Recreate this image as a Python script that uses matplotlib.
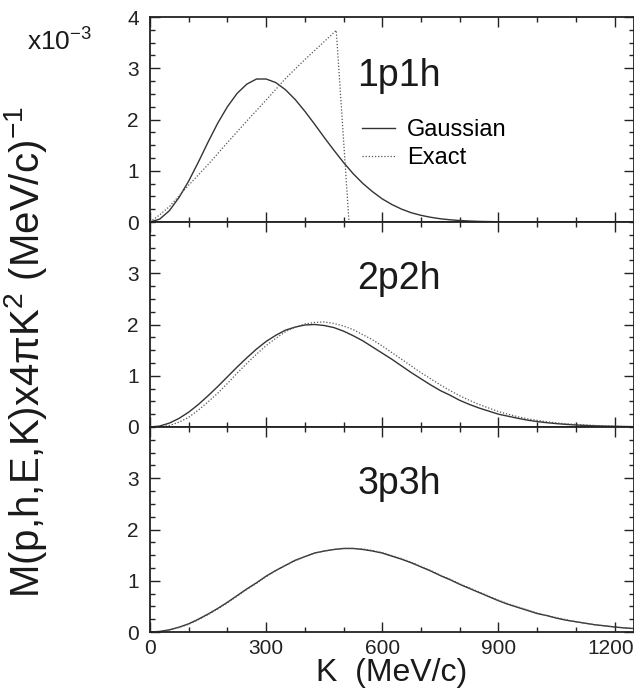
import matplotlib
matplotlib.use("Agg")
import matplotlib.pyplot as plt
from matplotlib.ticker import MultipleLocator
from matplotlib.transforms import ScaledTranslation

plt.rcParams["font.family"] = ["Liberation Sans", "DejaVu Sans"]
plt.rcParams["mathtext.fontset"] = "custom"
plt.rcParams["mathtext.rm"] = "Liberation Sans"
plt.rcParams["mathtext.it"] = "Liberation Sans"

# ── dados (K em MeV/c, valores em 10^-3 (MeV/c)^-1) ──────────────────────────
k_grid = [0, 25, 50, 75, 100, 125, 150, 175, 200, 225, 250, 275, 300, 325,
          350, 375, 400, 425, 450, 475, 500, 525, 550, 575, 600, 625, 650,
          675, 700, 725, 750, 775, 800, 825, 850, 875, 900, 925, 950, 975,
          1000, 1025, 1050, 1075, 1100, 1125, 1150, 1175, 1200, 1225, 1250]

gauss_1p1h = [0, 0.056, 0.22, 0.48, 0.80, 1.17, 1.56, 1.93, 2.25, 2.51, 2.69,
              2.79, 2.79, 2.72, 2.58, 2.39, 2.16, 1.91, 1.65, 1.40, 1.16,
              0.94, 0.75, 0.59, 0.45, 0.34, 0.25, 0.18, 0.13, 0.092, 0.063,
              0.043, 0.029, 0.019, 0.012, 0.008, 0.005, 0.003, 0.002, 0.001,
              0.001, 0, 0, 0, 0, 0, 0, 0, 0, 0, 0]
k_exact_1p1h = [0, 25, 50, 100, 150, 200, 250, 300, 350, 400, 450, 481, 514, 1250]
exact_1p1h = [0, 0.14, 0.30, 0.72, 1.12, 1.55, 1.97, 2.38, 2.80, 3.17, 3.52,
              3.74, 0, 0]

gauss_2p2h = [0, 0.019, 0.076, 0.168, 0.29, 0.44, 0.61, 0.79, 0.98, 1.17,
              1.35, 1.52, 1.67, 1.79, 1.89, 1.95, 1.99, 2.00, 1.98, 1.94,
              1.87, 1.78, 1.68, 1.56, 1.44, 1.32, 1.19, 1.06, 0.94, 0.82,
              0.71, 0.62, 0.52, 0.44, 0.37, 0.31, 0.25, 0.21, 0.17, 0.134,
              0.106, 0.084, 0.066, 0.051, 0.039, 0.030, 0.023, 0.017, 0.013,
              0.009, 0.007]
exact_2p2h = [0, 0.005, 0.03, 0.094, 0.19, 0.33, 0.49, 0.66, 0.85, 1.05,
              1.24, 1.42, 1.59, 1.73, 1.86, 1.95, 2.01, 2.04, 2.05, 2.02,
              1.97, 1.90, 1.80, 1.70, 1.58, 1.45, 1.32, 1.19, 1.06, 0.94,
              0.82, 0.71, 0.61, 0.52, 0.44, 0.37, 0.30, 0.25, 0.20, 0.16,
              0.13, 0.10, 0.08, 0.063, 0.05, 0.039, 0.03, 0.022, 0.015,
              0.011, 0.008]

gauss_3p3h = [0, 0.011, 0.042, 0.094, 0.16, 0.25, 0.35, 0.46, 0.58, 0.71,
              0.84, 0.96, 1.09, 1.20, 1.30, 1.40, 1.47, 1.54, 1.58, 1.61,
              1.63, 1.63, 1.61, 1.58, 1.54, 1.48, 1.42, 1.35, 1.27, 1.19,
              1.10, 1.02, 0.93, 0.85, 0.77, 0.69, 0.61, 0.54, 0.48, 0.42,
              0.36, 0.32, 0.27, 0.23, 0.20, 0.17, 0.14, 0.12, 0.097, 0.080,
              0.066]
exact_3p3h = [0, 0.009, 0.038, 0.088, 0.15, 0.24, 0.34, 0.45, 0.57, 0.70,
              0.83, 0.95, 1.08, 1.20, 1.30, 1.39, 1.47, 1.54, 1.58, 1.61,
              1.63, 1.63, 1.62, 1.59, 1.55, 1.49, 1.43, 1.36, 1.28, 1.20,
              1.11, 1.03, 0.94, 0.86, 0.78, 0.70, 0.62, 0.55, 0.49, 0.43,
              0.37, 0.32, 0.28, 0.24, 0.20, 0.17, 0.14, 0.12, 0.10, 0.082,
              0.068]

paineis = ["1p1h", "2p2h", "3p3h"]
x_ticks = [0, 300, 600, 900, 1200]

# ── figura ───────────────────────────────────────────────────────────────────
W, H = 634, 693
fig = plt.figure(figsize=(W / 100, H / 100), dpi=100)
fig.patch.set_facecolor("white")

esq, dir_ = 150, 634
topo, base = 17, 632
alt = (base - topo) / 3

axes = []
for i in range(3):
    y_top = topo + i * alt
    ax = fig.add_axes([esq / W, 1 - (y_top + alt) / H, (dir_ - esq) / W, alt / H])
    axes.append(ax)

dados = [
    (k_grid, gauss_1p1h, k_exact_1p1h, exact_1p1h),
    (k_grid, gauss_2p2h, k_grid, exact_2p2h),
    (k_grid, gauss_3p3h, k_grid, exact_3p3h),
]

for i, (ax, nome, (kg, g, ke, e)) in enumerate(zip(axes, paineis, dados)):
    l1, = ax.plot(kg, g, color="#333333", lw=1.0, ls="-", label="Gaussian")
    l2, = ax.plot(ke, e, color="#555555", lw=0.9, ls=(0, (1, 1.5)), label="Exact")

    ax.set_xlim(0, 1250)
    ax.set_ylim(0, 4)
    ax.xaxis.set_major_locator(MultipleLocator(300))
    ax.xaxis.set_minor_locator(MultipleLocator(100))
    ax.yaxis.set_minor_locator(MultipleLocator(0.25))
    if i == 0:
        ax.set_yticks([0, 1, 2, 3, 4])
    else:
        ax.set_yticks([0, 1, 2, 3])
    ax.tick_params(which="both", direction="in", top=True, right=True,
                   labelsize=15, width=1.0, colors="#222222")
    ax.tick_params(axis="y", pad=8)
    ax.tick_params(axis="x", pad=5)
    ax.tick_params(which="major", length=7)
    ax.tick_params(which="minor", length=3.5)
    if i < 2:
        ax.tick_params(labelbottom=False)
    for s in ax.spines.values():
        s.set_linewidth(1.3)
        s.set_color("#222222")

    ax.text(0.428, 0.72 if i else 0.71, nome, transform=ax.transAxes,
            fontsize=27, va="center", ha="left", color="#1a1a1a")

    if i == 0:
        ax.legend(handles=[l1, l2], loc="upper left",
                  bbox_to_anchor=(0.438, 0.50), frameon=False,
                  fontsize=17, handlelength=1.4, handletextpad=0.5,
                  labelspacing=0.25, borderaxespad=0, borderpad=0)

axes[2].set_xticks(x_ticks)
axes[2].set_xlabel("K  (MeV/c)", fontsize=23, labelpad=0, color="#1a1a1a")

# o rótulo "1200" encosta na borda direita: desloca alguns pixels
ultimo = axes[2].xaxis.get_major_ticks()[-1].label1
ultimo.set_transform(ultimo.get_transform()
                     + ScaledTranslation(-4 / 100, 0, fig.dpi_scale_trans))

fig.text(26 / W, 1 - 352 / H,
         r"M(p,h,E,K)x4$\pi$K$^{2}$ (MeV/c)$^{-1}$",
         rotation=90, fontsize=29, va="center", ha="center", color="#1a1a1a")
fig.text(27 / W, 1 - 42 / H, r"x10$^{-3}$", fontsize=19, va="center",
         ha="left", color="#1a1a1a")

fig.savefig("out.png", dpi=100, facecolor="white")
